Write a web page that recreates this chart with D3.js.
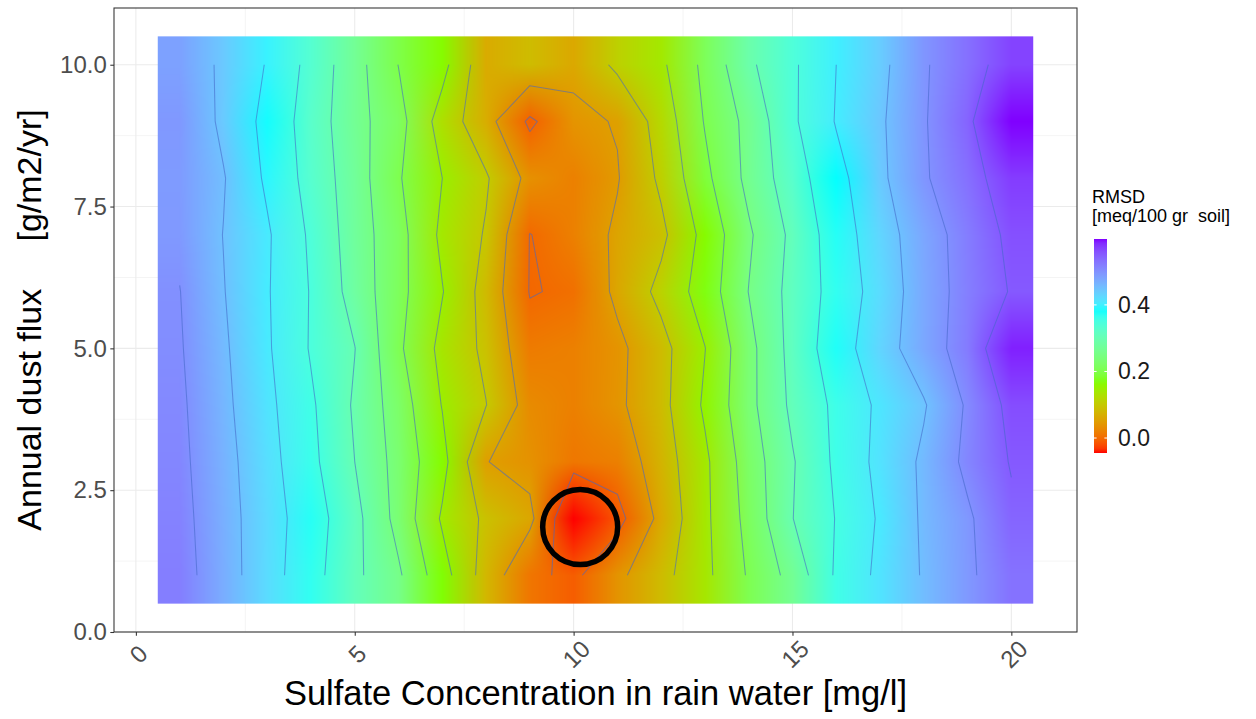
<!DOCTYPE html>
<html>
<head>
<meta charset="utf-8">
<script src="https://cdn.jsdelivr.net/npm/d3@7"></script>
<style>
  html, body { margin: 0; padding: 0; background: #ffffff; }
  svg { display: block; font-family: "Liberation Sans", Arial, Helvetica, sans-serif; }
</style>
</head>
<body>
<svg id="chart" width="1256" height="719"></svg>
<script>
// Grid axes: sulfate concentration in rain water (mg/l) and annual dust flux (g/m2/yr)
const sulfate  = [1, 2, 3, 4, 5, 6, 7, 8, 9, 10, 11, 12, 13, 14, 15, 16, 17, 18, 19, 20];
const dustFlux = [1, 2, 3, 4, 5, 6, 7, 8, 9, 10];

// RMSD [meq/100 gr soil] for each dust-flux row, one value per sulfate column
const rmsdFlux1  = [0.519, 0.471, 0.421, 0.368, 0.311, 0.257, 0.170, 0.078, 0.010, -0.010, 0.040, 0.084, 0.138, 0.205, 0.267, 0.357, 0.412, 0.454, 0.492, 0.530];
const rmsdFlux2  = [0.515, 0.469, 0.422, 0.374, 0.315, 0.234, 0.144, 0.091, 0.060, -0.045, -0.015, 0.063, 0.140, 0.215, 0.299, 0.352, 0.406, 0.457, 0.493, 0.542];
const rmsdFlux3  = [0.511, 0.466, 0.418, 0.362, 0.300, 0.232, 0.165, 0.051, 0.037, 0.011, 0.020, 0.075, 0.141, 0.223, 0.296, 0.359, 0.414, 0.458, 0.511, 0.553];
const rmsdFlux4  = [0.508, 0.461, 0.412, 0.357, 0.294, 0.225, 0.148, 0.101, 0.030, 0.020, 0.041, 0.085, 0.157, 0.236, 0.310, 0.360, 0.410, 0.446, 0.506, 0.563];
const rmsdFlux5  = [0.504, 0.457, 0.406, 0.346, 0.301, 0.208, 0.137, 0.090, 0.015, 0.020, 0.039, 0.084, 0.149, 0.235, 0.316, 0.377, 0.429, 0.476, 0.522, 0.590];
const rmsdFlux6  = [0.501, 0.452, 0.404, 0.347, 0.281, 0.214, 0.152, 0.082, -0.002, 0.005, 0.060, 0.113, 0.172, 0.251, 0.316, 0.368, 0.421, 0.475, 0.518, 0.553];
const rmsdFlux7  = [0.492, 0.449, 0.406, 0.342, 0.276, 0.217, 0.140, 0.096, -0.001, 0.020, 0.058, 0.089, 0.165, 0.243, 0.311, 0.375, 0.428, 0.477, 0.520, 0.560];
const rmsdFlux8  = [0.490, 0.453, 0.392, 0.332, 0.274, 0.204, 0.150, 0.105, 0.036, 0.020, 0.047, 0.109, 0.188, 0.263, 0.328, 0.384, 0.440, 0.495, 0.532, 0.575];
const rmsdFlux9  = [0.493, 0.440, 0.386, 0.327, 0.268, 0.217, 0.129, 0.067, -0.008, 0.039, 0.053, 0.121, 0.203, 0.264, 0.342, 0.403, 0.443, 0.496, 0.543, 0.598];
const rmsdFlux10 = [0.483, 0.441, 0.397, 0.334, 0.269, 0.199, 0.165, 0.065, 0.084, 0.061, 0.110, 0.141, 0.212, 0.291, 0.342, 0.400, 0.437, 0.495, 0.532, 0.570];

// Tick labels and contour levels
const xTicks = [0, 5, 10, 15, 20];
const yTicks = [0, 2.5, 5, 7.5, 10];
const legendTicks = [0, 0.2, 0.4];
const contourLevels = [0, 0.05, 0.1, 0.15, 0.2, 0.25, 0.3, 0.35, 0.4, 0.45, 0.5, 0.55];

// Best-fit point marked with a ring
const bestFit = [{ sulfate: 10.15, flux: 1.85 }];

// Rainbow palette (red → chartreuse → cyan → violet)
const palette = ["#FF0000", "#80FF00", "#00FFFF", "#8000FF"];

// ---------------------------------------------------------------------------
const rows = [rmsdFlux1, rmsdFlux2, rmsdFlux3, rmsdFlux4, rmsdFlux5,
              rmsdFlux6, rmsdFlux7, rmsdFlux8, rmsdFlux9, rmsdFlux10];
const nx = sulfate.length, ny = dustFlux.length;
const allValues = rows.flat();
const vExt = d3.extent(allValues);

const svg = d3.select("#chart");
const panel = { left: 114, right: 1077, top: 8, bottom: 632 };

// Raster covers half a cell around each grid node; axes get 5% padding
const xSpan = [d3.min(sulfate) - 0.5, d3.max(sulfate) + 0.5];
const ySpan = [d3.min(dustFlux) - 0.5, d3.max(dustFlux) + 0.5];
const pad = (s) => { const d = (s[1] - s[0]) * 0.05; return [s[0] - d, s[1] + d]; };
const x = d3.scaleLinear().domain(pad(xSpan)).range([panel.left, panel.right]);
const y = d3.scaleLinear().domain(pad(ySpan)).range([panel.bottom, panel.top]);

const color = d3.scaleLinear()
  .domain(palette.map((c, k) => vExt[0] + k * (vExt[1] - vExt[0]) / (palette.length - 1)))
  .range(palette)
  .interpolate(d3.interpolateLab)
  .clamp(true);

// Panel background and grid
svg.append("rect").attr("x", panel.left).attr("y", panel.top)
  .attr("width", panel.right - panel.left).attr("height", panel.bottom - panel.top)
  .attr("fill", "#ffffff");

const mids = (t) => d3.pairs(t).map(([a, b]) => (a + b) / 2);
const gGrid = svg.append("g");
gGrid.selectAll("line.xmin").data(mids(xTicks)).join("line")
  .attr("x1", d => x(d)).attr("x2", d => x(d)).attr("y1", panel.top).attr("y2", panel.bottom)
  .attr("stroke", "#EBEBEB").attr("stroke-width", 0.55);
gGrid.selectAll("line.ymin").data(mids(yTicks)).join("line")
  .attr("y1", d => y(d)).attr("y2", d => y(d)).attr("x1", panel.left).attr("x2", panel.right)
  .attr("stroke", "#EBEBEB").attr("stroke-width", 0.55);
gGrid.selectAll("line.xmaj").data(xTicks).join("line")
  .attr("x1", d => x(d)).attr("x2", d => x(d)).attr("y1", panel.top).attr("y2", panel.bottom)
  .attr("stroke", "#EBEBEB").attr("stroke-width", 1.07);
gGrid.selectAll("line.ymaj").data(yTicks).join("line")
  .attr("y1", d => y(d)).attr("y2", d => y(d)).attr("x1", panel.left).attr("x2", panel.right)
  .attr("stroke", "#EBEBEB").attr("stroke-width", 1.07);

// Smoothly interpolated raster (bilinear blend between cell colours)
const cellRGB = rows.map(r => r.map(v => d3.rgb(color(v))));
const rx0 = x(xSpan[0]), rx1 = x(xSpan[1]);
const ry0 = y(ySpan[1]), ry1 = y(ySpan[0]);
const cw = Math.round(rx1 - rx0), ch = Math.round(ry1 - ry0);
const colIdx = d3.scaleLinear().domain(d3.extent(sulfate)).range([0, nx - 1]).clamp(true);
const rowIdx = d3.scaleLinear().domain(d3.extent(dustFlux)).range([0, ny - 1]).clamp(true);
const canvas = document.createElement("canvas");
canvas.width = cw; canvas.height = ch;
const ctx = canvas.getContext("2d");
const img = ctx.createImageData(cw, ch);
for (let py = 0; py < ch; py++) {
  const fy = rowIdx(y.invert(ry0 + (py + 0.5) * (ry1 - ry0) / ch));
  const j0 = Math.min(Math.floor(fy), ny - 2), ty = fy - j0;
  for (let px = 0; px < cw; px++) {
    const fx = colIdx(x.invert(rx0 + (px + 0.5) * (rx1 - rx0) / cw));
    const i0 = Math.min(Math.floor(fx), nx - 2), tx = fx - i0;
    const c00 = cellRGB[j0][i0], c10 = cellRGB[j0][i0 + 1];
    const c01 = cellRGB[j0 + 1][i0], c11 = cellRGB[j0 + 1][i0 + 1];
    const k = (py * cw + px) * 4;
    for (const [ch_, key] of [[0, "r"], [1, "g"], [2, "b"]]) {
      const a = c00[key] * (1 - tx) + c10[key] * tx;
      const b = c01[key] * (1 - tx) + c11[key] * tx;
      img.data[k + ch_] = Math.round(a * (1 - ty) + b * ty);
    }
    img.data[k + 3] = 255;
  }
}
ctx.putImageData(img, 0, 0);
svg.append("image")
  .attr("x", rx0).attr("y", ry0).attr("width", rx1 - rx0).attr("height", ry1 - ry0)
  .attr("preserveAspectRatio", "none")
  .attr("href", canvas.toDataURL("image/png"));

// Contour lines (marching squares on the grid nodes, stitched into polylines)
function isolines(level) {
  const pts = new Map(), adj = new Map();
  const val = (i, j) => rows[j][i];
  const edgePoint = (key, i0, j0, i1, j1) => {
    if (!pts.has(key)) {
      const a = val(i0, j0), b = val(i1, j1), t = (level - a) / (b - a);
      pts.set(key, [sulfate[i0] + t * (sulfate[i1] - sulfate[i0]),
                    dustFlux[j0] + t * (dustFlux[j1] - dustFlux[j0])]);
    }
    return key;
  };
  const link = (a, b) => {
    if (!adj.has(a)) adj.set(a, []);
    if (!adj.has(b)) adj.set(b, []);
    adj.get(a).push(b); adj.get(b).push(a);
  };
  for (let j = 0; j < ny - 1; j++) {
    for (let i = 0; i < nx - 1; i++) {
      const c = [val(i, j), val(i + 1, j), val(i + 1, j + 1), val(i, j + 1)];
      const s = c.map(v => v >= level);
      const edges = [
        () => edgePoint(`h${i},${j}`, i, j, i + 1, j),
        () => edgePoint(`v${i + 1},${j}`, i + 1, j, i + 1, j + 1),
        () => edgePoint(`h${i},${j + 1}`, i, j + 1, i + 1, j + 1),
        () => edgePoint(`v${i},${j}`, i, j, i, j + 1)
      ];
      const crossed = [0, 1, 2, 3].filter(e => s[e] !== s[(e + 1) % 4]);
      if (crossed.length === 2) {
        link(edges[crossed[0]](), edges[crossed[1]]());
      } else if (crossed.length === 4) {
        const centre = d3.mean(c) >= level;
        for (let k = 0; k < 4; k++) {
          if (s[k] !== centre) link(edges[(k + 3) % 4](), edges[k]());
        }
      }
    }
  }
  const used = new Set(), lines = [];
  const segKey = (a, b) => a < b ? a + "|" + b : b + "|" + a;
  const walk = (start) => {
    const path = [start];
    let cur = start;
    for (;;) {
      const next = adj.get(cur).find(n => !used.has(segKey(cur, n)));
      if (next === undefined) break;
      used.add(segKey(cur, next));
      path.push(next);
      cur = next;
    }
    return path;
  };
  for (const [k, nb] of adj) if (nb.length === 1 && !used.has(segKey(k, nb[0]))) lines.push(walk(k));
  for (const [k, nb] of adj) for (const n of nb) if (!used.has(segKey(k, n))) lines.push(walk(k));
  return lines.map(l => l.map(key => pts.get(key)));
}

const line = d3.line().x(d => x(d[0])).y(d => y(d[1]));
const gContours = svg.append("g")
  .attr("fill", "none").attr("stroke", "#4468C8").attr("stroke-opacity", 0.58)
  .attr("stroke-width", 1.05).attr("stroke-linejoin", "round");
contourLevels.forEach(level => {
  gContours.selectAll(null).data(isolines(level)).join("path").attr("d", line);
});

// Highlighted best fit
svg.append("g").selectAll("circle").data(bestFit).join("circle")
  .attr("cx", d => x(d.sulfate)).attr("cy", d => y(d.flux)).attr("r", 37.5)
  .attr("fill", "none").attr("stroke", "#000000").attr("stroke-width", 5.5);

// Panel border
svg.append("rect").attr("x", panel.left).attr("y", panel.top)
  .attr("width", panel.right - panel.left).attr("height", panel.bottom - panel.top)
  .attr("fill", "none").attr("stroke", "#333333").attr("stroke-width", 1.07);

// Axes
const gx = svg.append("g").attr("transform", `translate(0,${panel.bottom})`)
  .call(d3.axisBottom(x).tickValues(xTicks).tickSize(3.7).tickPadding(3).tickFormat(d3.format("d")));
gx.select(".domain").remove();
gx.selectAll(".tick line").attr("stroke", "#333333").attr("stroke-width", 1.07);
gx.selectAll(".tick text")
  .attr("fill", "#4D4D4D").attr("font-size", 24).attr("font-family", null)
  .attr("text-anchor", "middle").attr("dy", null).attr("y", null)
  .attr("dominant-baseline", "central")
  .attr("transform", "translate(2,22) rotate(-45)");

const gy = svg.append("g").attr("transform", `translate(${panel.left},0)`)
  .call(d3.axisLeft(y).tickValues(yTicks).tickSize(3.7).tickPadding(3.5).tickFormat(d3.format(".1f")));
gy.select(".domain").remove();
gy.selectAll(".tick line").attr("stroke", "#333333").attr("stroke-width", 1.07);
gy.selectAll(".tick text").attr("fill", "#4D4D4D").attr("font-size", 24).attr("font-family", null);

// Axis titles
svg.append("text")
  .attr("x", (panel.left + panel.right) / 2).attr("y", 705)
  .attr("text-anchor", "middle").attr("font-size", 34.5).attr("fill", "#000000")
  .text("Sulfate Concentration in rain water [mg/l]");
svg.append("text")
  .attr("transform", `translate(41,${(panel.top + panel.bottom) / 2}) rotate(-90)`)
  .attr("text-anchor", "middle").attr("font-size", 34).attr("fill", "#000000")
  .style("white-space", "pre")
  .text("Annual dust flux     [g/m2/yr]");

// Colour bar legend
const bar = { x: 1094, y0: 239, y1: 453, w: 13 };
const ly = d3.scaleLinear().domain(vExt).range([bar.y1, bar.y0]);
const defs = svg.append("defs");
const grad = defs.append("linearGradient").attr("id", "rmsdGrad")
  .attr("x1", 0).attr("y1", 1).attr("x2", 0).attr("y2", 0);
grad.selectAll("stop").data(d3.range(0, 1.0001, 0.02)).join("stop")
  .attr("offset", d => d)
  .attr("stop-color", d => color(vExt[0] + d * (vExt[1] - vExt[0])));
svg.append("rect").attr("x", bar.x).attr("y", bar.y0)
  .attr("width", bar.w).attr("height", bar.y1 - bar.y0).attr("fill", "url(#rmsdGrad)");
const gLeg = svg.append("g");
gLeg.selectAll("line.l").data(legendTicks).join("line")
  .attr("x1", bar.x).attr("x2", bar.x + bar.w / 5).attr("y1", d => ly(d)).attr("y2", d => ly(d))
  .attr("stroke", "#ffffff").attr("stroke-width", 1);
gLeg.selectAll("line.r").data(legendTicks).join("line")
  .attr("x1", bar.x + bar.w * 0.8).attr("x2", bar.x + bar.w).attr("y1", d => ly(d)).attr("y2", d => ly(d))
  .attr("stroke", "#ffffff").attr("stroke-width", 1);
gLeg.selectAll("text").data(legendTicks).join("text")
  .attr("x", 1118).attr("y", d => ly(d)).attr("dominant-baseline", "central")
  .attr("font-size", 23).attr("fill", "#1A1A1A")
  .text(d3.format(".1f"));

svg.append("text").attr("x", 1092).attr("y", 203).attr("font-size", 18).attr("fill", "#000000")
  .text("RMSD");
svg.append("text").attr("x", 1092).attr("y", 222).attr("font-size", 18).attr("fill", "#000000")
  .style("white-space", "pre")
  .text("[meq/100 gr  soil]");
</script>
</body>
</html>
